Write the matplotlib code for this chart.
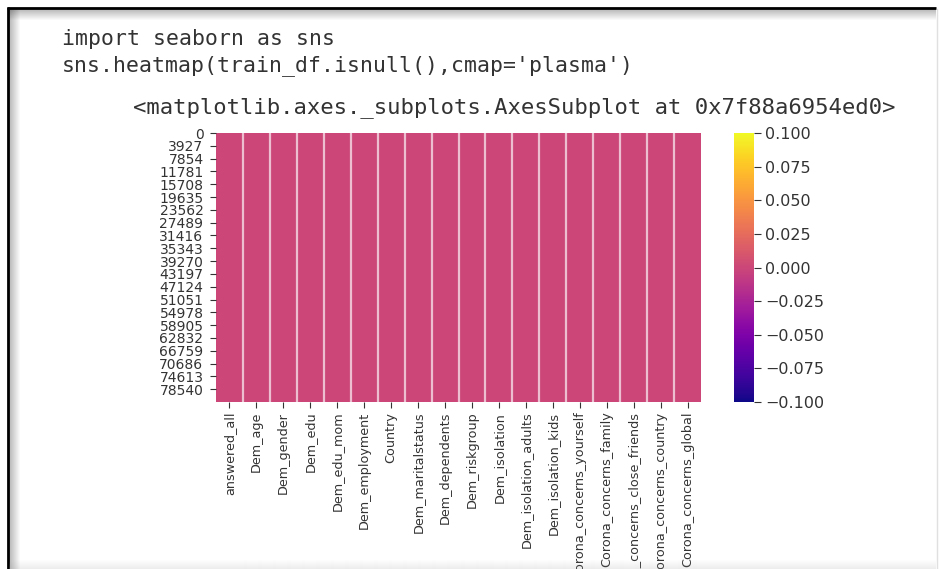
"""
    Notebook screenshot: seaborn-style heatmap of train_df.isnull() with the plasma colormap.
"""

import numpy as np
import matplotlib
matplotlib.use("Agg")
import matplotlib.pyplot as plt
from matplotlib.ticker import MultipleLocator

# data
columns = ["answered_all", "Dem_age", "Dem_gender", "Dem_edu", "Dem_edu_mom",
           "Dem_employment", "Country", "Dem_maritalstatus", "Dem_dependents",
           "Dem_riskgroup", "Dem_isolation", "Dem_isolation_adults",
           "Dem_isolation_kids", "Corona_concerns_yourself", "Corona_concerns_family",
           "Corona_concerns_close_friends", "Corona_concerns_country",
           "Corona_concerns_global"]
is_null = [0, 0, 0, 0, 0, 0, 0, 0, 0, 0, 0, 0, 0, 0, 0, 0, 0, 0]  # no missing value anywhere
n_rows = 82460
row_tick_step = 3927
cbar_min, cbar_max, cbar_step = -0.1, 0.1, 0.025

code_lines = ["import seaborn as sns",
              "sns.heatmap(train_df.isnull(),cmap='plasma')"]
out_text = "<matplotlib.axes._subplots.AxesSubplot at 0x7f88a6954ed0>"

W, H = 939, 569
TXT = "#333333"

fig = plt.figure(figsize=(W / 100, H / 100), dpi=100)

# background layer in pixel units: notebook frame, shadows and the code text
bg = fig.add_axes([0, 0, 1, 1], zorder=0)
bg.set_xlim(0, W)
bg.set_ylim(H, 0)
bg.axis("off")

fade = np.zeros((12, 1, 4))
fade[:, 0, 3] = np.linspace(0.28, 0.0, 12)
bg.imshow(fade, extent=[8, 936, 21, 9], aspect="auto", interpolation="bilinear")
bg.imshow(fade.transpose(1, 0, 2), extent=[9, 21, H, 9], aspect="auto", interpolation="bilinear")
bg.plot([7, 936], [8, 8], color="black", lw=2.0, solid_capstyle="butt")
bg.plot([7.5, 7.5], [7, H], color="black", lw=2.0, solid_capstyle="butt")
bg.plot([937, 937], [9, H], color="#e0e0e0", lw=1)

bg.text(62, 45, code_lines[0], family="DejaVu Sans Mono", fontsize=15.5, color=TXT, va="baseline")
bg.text(62, 71, code_lines[1], family="DejaVu Sans Mono", fontsize=15.5, color=TXT, va="baseline")
bg.text(133, 113, out_text, family="DejaVu Sans Mono", fontsize=16, color=TXT, va="baseline")

# heatmap
ax = fig.add_axes([216 / W, 1 - 402 / H, (701 - 216) / W, (402 - 133) / H], zorder=2)
values = np.array(is_null, dtype=float)[None, :]
x_edges = np.arange(len(columns) + 1)
y_edges = np.array([0, n_rows])
mesh = ax.pcolormesh(x_edges, y_edges, values, cmap="plasma", vmin=cbar_min, vmax=cbar_max)
ax.vlines(x_edges[1:-1], 0, n_rows, colors="white", lw=1.6, alpha=0.65)
ax.set_xlim(0, len(columns))
ax.set_ylim(n_rows, 0)
for s in ax.spines.values():
    s.set_visible(False)

yt = np.arange(0, n_rows, row_tick_step)
ax.set_yticks(yt + 0.5)
ax.set_yticklabels([str(v) for v in yt])
ax.set_xticks(x_edges[:-1] + 0.5)
ax.set_xticklabels(columns, rotation=90)
ax.tick_params(axis="y", labelsize=10, length=4, pad=5, colors=TXT)
ax.tick_params(axis="x", labelsize=9.2, length=4, pad=3, colors=TXT)

# colorbar
cax = fig.add_axes([734 / W, 1 - 402 / H, 20 / W, (402 - 133) / H], zorder=2)
cb = fig.colorbar(mesh, cax=cax)
cb.outline.set_visible(False)
cb.locator = MultipleLocator(cbar_step)
cb.update_ticks()
cax.tick_params(labelsize=11.5, length=5, pad=3, colors=TXT)

# light grey band at the bottom edge of the screenshot
top = fig.add_axes([0, 0, 1, 1], zorder=5)
top.set_xlim(0, W)
top.set_ylim(H, 0)
top.axis("off")
band = np.zeros((10, 1, 4))
band[:, 0, :3] = 0.6
band[:, 0, 3] = np.linspace(0.0, 0.18, 10)
top.imshow(band, extent=[9, 936, H, H - 10], aspect="auto", interpolation="bilinear")

fig.savefig("out.png", dpi=100)
